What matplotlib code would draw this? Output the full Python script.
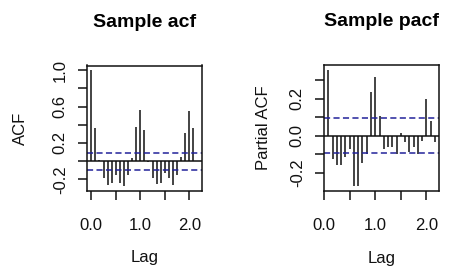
import numpy as np
import matplotlib
matplotlib.use("Agg")
import matplotlib.pyplot as plt

plt.rcParams['font.family'] = ['Liberation Sans', 'DejaVu Sans']

# ---- data ----
frequency = 12
acf_lags = list(range(0, 27))
acf_vals = [1.0, 0.361, 0.010, -0.186, -0.263, -0.241, -0.150, -0.241, -0.274,
            -0.157, 0.029, 0.372, 0.566, 0.347, -0.005, -0.186, -0.252, -0.237,
            -0.131, -0.190, -0.263, -0.150, 0.040, 0.310, 0.551, 0.361, 0.005]
pacf_lags = list(range(1, 27))
pacf_vals = [0.357, -0.128, -0.159, -0.159, -0.114, -0.072, -0.273, -0.273,
             -0.146, -0.101, 0.238, 0.319, 0.106, -0.072, -0.060, -0.060,
             -0.099, 0.016, -0.035, -0.090, -0.060, -0.100, -0.028, 0.199,
             0.080, -0.033]
ci = 0.094

acf_yticks = [-0.2, 0.0, 0.2, 0.4, 0.6, 0.8, 1.0]
acf_ylabels = ['-0.2', '', '0.2', '', '0.6', '', '1.0']
pacf_yticks = [-0.2, -0.1, 0.0, 0.1, 0.2, 0.3]
pacf_ylabels = ['-0.2', '', '0.0', '', '0.2', '']
xticks = [0.0, 0.5, 1.0, 1.5, 2.0]
xlabels = ['0.0', '', '1.0', '', '2.0']

fig = plt.figure(figsize=(4.5, 2.74), dpi=100)
W, H = 450, 274
ax1 = fig.add_axes([87 / W, 1 - 190.7 / H, 114.7 / W, 125.2 / H])
ax2 = fig.add_axes([324 / W, 1 - 190.7 / H, 115.3 / W, 125.7 / H])

ci_col = '#22229a'
lw = 1.1
fs = 12

def panel(ax, lags, vals, title, ylab, yticks, ylabels, ylabx):
    x = np.asarray(lags) / frequency
    ax.vlines(x, 0, vals, colors='#111111', linewidth=lw)
    ax.margins(x=0.04, y=0.04)
    ax.axhline(0, color='#111111', linewidth=lw)
    for s in (ci, -ci):
        ax.axhline(s, color=ci_col, linewidth=lw, linestyle=(0, (4.0, 2.2)))
    ax.set_xticks(xticks)
    ax.set_xticklabels(xlabels, fontsize=fs)
    ax.set_yticks(yticks)
    ax.set_yticklabels(ylabels, fontsize=fs, rotation=90, va='center')
    ax.tick_params(axis='both', direction='out', length=6.8, width=lw,
                   color='#111111', labelcolor='#111111')
    ax.tick_params(axis='x', pad=13)
    ax.tick_params(axis='y', pad=7)
    for sp in ax.spines.values():
        sp.set_linewidth(lw)
        sp.set_color('#111111')
    ax.set_xlabel('Lag', fontsize=fs, va='center', color='#111111')
    ax.xaxis.set_label_coords(0.5, -0.5375)
    ax.set_ylabel(ylab, fontsize=fs, va='center', color='#111111')
    ax.yaxis.set_label_coords(ylabx, 0.5)
    ax.set_title(title, fontsize=14, fontweight='bold', pad=0, y=1.0)
    ax.title.set_position((0.5, (190.7 - 22.5) / 125.2))
    ax.title.set_va('center')

panel(ax1, acf_lags, acf_vals, 'Sample acf', 'ACF', acf_yticks, acf_ylabels, -0.584)
panel(ax2, pacf_lags, pacf_vals, 'Sample pacf', 'Partial ACF', pacf_yticks, pacf_ylabels, -0.526)

fig.savefig('out.png', dpi=100)
